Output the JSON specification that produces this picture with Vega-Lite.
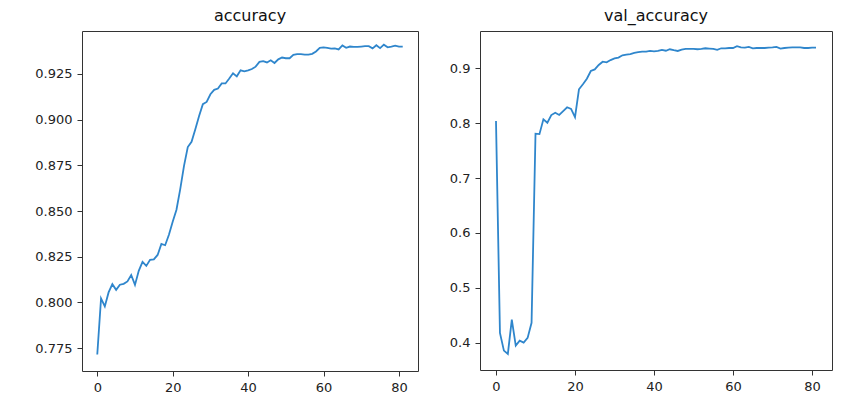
{
  "$schema": "https://vega.github.io/schema/vega-lite/v6.json",
  "padding": {"left": 34, "top": 7, "right": 5, "bottom": 5},
  "background": "white",
  "spacing": 29,
  "config": {
    "font": "DejaVu Sans",
    "view": {"stroke": "#333", "strokeWidth": 1},
    "axis": {
      "grid": false,
      "domain": false,
      "tickColor": "#333",
      "tickSize": 5,
      "tickWidth": 1,
      "labelFont": "DejaVu Sans",
      "labelFontSize": 13,
      "labelColor": "#222",
      "labelPadding": 5,
      "title": null
    },
    "title": {"font": "DejaVu Sans", "fontSize": 16, "fontWeight": "normal", "color": "#111", "offset": 7}
  },
  "datasets": {
    "acc": [
      {"epoch": 0, "v": 0.7715}, {"epoch": 1, "v": 0.8022}, {"epoch": 2, "v": 0.7978}, {"epoch": 3, "v": 0.8055},
      {"epoch": 4, "v": 0.8100}, {"epoch": 5, "v": 0.8069}, {"epoch": 6, "v": 0.8097}, {"epoch": 7, "v": 0.8102},
      {"epoch": 8, "v": 0.8115}, {"epoch": 9, "v": 0.8150}, {"epoch": 10, "v": 0.8096}, {"epoch": 11, "v": 0.8173},
      {"epoch": 12, "v": 0.8222}, {"epoch": 13, "v": 0.8200}, {"epoch": 14, "v": 0.8233}, {"epoch": 15, "v": 0.8236},
      {"epoch": 16, "v": 0.8260}, {"epoch": 17, "v": 0.8320}, {"epoch": 18, "v": 0.8313}, {"epoch": 19, "v": 0.8370},
      {"epoch": 20, "v": 0.8441}, {"epoch": 21, "v": 0.8507}, {"epoch": 22, "v": 0.8620}, {"epoch": 23, "v": 0.8747},
      {"epoch": 24, "v": 0.8850}, {"epoch": 25, "v": 0.8879}, {"epoch": 26, "v": 0.8948}, {"epoch": 27, "v": 0.9020},
      {"epoch": 28, "v": 0.9085}, {"epoch": 29, "v": 0.9097}, {"epoch": 30, "v": 0.9139}, {"epoch": 31, "v": 0.9163},
      {"epoch": 32, "v": 0.9170}, {"epoch": 33, "v": 0.9198}, {"epoch": 34, "v": 0.9198}, {"epoch": 35, "v": 0.9225},
      {"epoch": 36, "v": 0.9254}, {"epoch": 37, "v": 0.9237}, {"epoch": 38, "v": 0.9270}, {"epoch": 39, "v": 0.9264},
      {"epoch": 40, "v": 0.9270}, {"epoch": 41, "v": 0.9277}, {"epoch": 42, "v": 0.9290}, {"epoch": 43, "v": 0.9316},
      {"epoch": 44, "v": 0.9320}, {"epoch": 45, "v": 0.9313}, {"epoch": 46, "v": 0.9325}, {"epoch": 47, "v": 0.9310},
      {"epoch": 48, "v": 0.9330}, {"epoch": 49, "v": 0.9340}, {"epoch": 50, "v": 0.9336}, {"epoch": 51, "v": 0.9336},
      {"epoch": 52, "v": 0.9354}, {"epoch": 53, "v": 0.9358}, {"epoch": 54, "v": 0.9358}, {"epoch": 55, "v": 0.9356},
      {"epoch": 56, "v": 0.9356}, {"epoch": 57, "v": 0.9360}, {"epoch": 58, "v": 0.9373}, {"epoch": 59, "v": 0.9393},
      {"epoch": 60, "v": 0.9395}, {"epoch": 61, "v": 0.9393}, {"epoch": 62, "v": 0.9389}, {"epoch": 63, "v": 0.9390},
      {"epoch": 64, "v": 0.9384}, {"epoch": 65, "v": 0.9406}, {"epoch": 66, "v": 0.9393}, {"epoch": 67, "v": 0.9400},
      {"epoch": 68, "v": 0.9398}, {"epoch": 69, "v": 0.9398}, {"epoch": 70, "v": 0.9400}, {"epoch": 71, "v": 0.9402},
      {"epoch": 72, "v": 0.9402}, {"epoch": 73, "v": 0.9390}, {"epoch": 74, "v": 0.9407}, {"epoch": 75, "v": 0.9391},
      {"epoch": 76, "v": 0.9410}, {"epoch": 77, "v": 0.9396}, {"epoch": 78, "v": 0.9400}, {"epoch": 79, "v": 0.9405},
      {"epoch": 80, "v": 0.9400}, {"epoch": 81, "v": 0.9400}
    ],
    "val": [
      {"epoch": 0, "v": 0.8038}, {"epoch": 1, "v": 0.4177}, {"epoch": 2, "v": 0.3854}, {"epoch": 3, "v": 0.3794},
      {"epoch": 4, "v": 0.4420}, {"epoch": 5, "v": 0.3945}, {"epoch": 6, "v": 0.4036}, {"epoch": 7, "v": 0.4000},
      {"epoch": 8, "v": 0.4085}, {"epoch": 9, "v": 0.4360}, {"epoch": 10, "v": 0.7808}, {"epoch": 11, "v": 0.7800},
      {"epoch": 12, "v": 0.8070}, {"epoch": 13, "v": 0.8008}, {"epoch": 14, "v": 0.8148}, {"epoch": 15, "v": 0.8190},
      {"epoch": 16, "v": 0.8150}, {"epoch": 17, "v": 0.8220}, {"epoch": 18, "v": 0.8290}, {"epoch": 19, "v": 0.8260},
      {"epoch": 20, "v": 0.8110}, {"epoch": 21, "v": 0.8617}, {"epoch": 22, "v": 0.8710}, {"epoch": 23, "v": 0.8810},
      {"epoch": 24, "v": 0.8950}, {"epoch": 25, "v": 0.8980}, {"epoch": 26, "v": 0.9060}, {"epoch": 27, "v": 0.9120},
      {"epoch": 28, "v": 0.9110}, {"epoch": 29, "v": 0.9150}, {"epoch": 30, "v": 0.9180}, {"epoch": 31, "v": 0.9195},
      {"epoch": 32, "v": 0.9237}, {"epoch": 33, "v": 0.9250}, {"epoch": 34, "v": 0.9260}, {"epoch": 35, "v": 0.9280},
      {"epoch": 36, "v": 0.9293}, {"epoch": 37, "v": 0.9305}, {"epoch": 38, "v": 0.9305}, {"epoch": 39, "v": 0.9316},
      {"epoch": 40, "v": 0.9310}, {"epoch": 41, "v": 0.9316}, {"epoch": 42, "v": 0.9335}, {"epoch": 43, "v": 0.9320},
      {"epoch": 44, "v": 0.9347}, {"epoch": 45, "v": 0.9330}, {"epoch": 46, "v": 0.9316}, {"epoch": 47, "v": 0.9340},
      {"epoch": 48, "v": 0.9353}, {"epoch": 49, "v": 0.9353}, {"epoch": 50, "v": 0.9353}, {"epoch": 51, "v": 0.9347},
      {"epoch": 52, "v": 0.9353}, {"epoch": 53, "v": 0.9365}, {"epoch": 54, "v": 0.9360}, {"epoch": 55, "v": 0.9353},
      {"epoch": 56, "v": 0.9335}, {"epoch": 57, "v": 0.9365}, {"epoch": 58, "v": 0.9365}, {"epoch": 59, "v": 0.9370},
      {"epoch": 60, "v": 0.9370}, {"epoch": 61, "v": 0.9402}, {"epoch": 62, "v": 0.9380}, {"epoch": 63, "v": 0.9377},
      {"epoch": 64, "v": 0.9390}, {"epoch": 65, "v": 0.9365}, {"epoch": 66, "v": 0.9370}, {"epoch": 67, "v": 0.9370},
      {"epoch": 68, "v": 0.9370}, {"epoch": 69, "v": 0.9377}, {"epoch": 70, "v": 0.9380}, {"epoch": 71, "v": 0.9390},
      {"epoch": 72, "v": 0.9360}, {"epoch": 73, "v": 0.9370}, {"epoch": 74, "v": 0.9377}, {"epoch": 75, "v": 0.9380},
      {"epoch": 76, "v": 0.9380}, {"epoch": 77, "v": 0.9380}, {"epoch": 78, "v": 0.9370}, {"epoch": 79, "v": 0.9370},
      {"epoch": 80, "v": 0.9377}, {"epoch": 81, "v": 0.9377}
    ]
  },
  "hconcat": [
    {
      "title": "accuracy",
      "width": 336,
      "height": 340,
      "data": {"name": "acc"},
      "mark": {"type": "line", "color": "#2f86cc", "strokeWidth": 1.8, "clip": true},
      "encoding": {
        "x": {"field": "epoch", "type": "quantitative",
              "scale": {"domain": [-4.05, 85.05], "nice": false, "zero": false},
              "axis": {"values": [0, 20, 40, 60, 80], "format": "d"}},
        "y": {"field": "v", "type": "quantitative",
              "scale": {"domain": [0.7625, 0.9485], "nice": false, "zero": false},
              "axis": {"values": [0.775, 0.8, 0.825, 0.85, 0.875, 0.9, 0.925], "format": ".3f"}}
      }
    },
    {
      "title": "val_accuracy",
      "width": 352,
      "height": 339,
      "data": {"name": "val"},
      "mark": {"type": "line", "color": "#2f86cc", "strokeWidth": 1.8, "clip": true},
      "encoding": {
        "x": {"field": "epoch", "type": "quantitative",
              "scale": {"domain": [-4.05, 85.05], "nice": false, "zero": false},
              "axis": {"values": [0, 20, 40, 60, 80], "format": "d"}},
        "y": {"field": "v", "type": "quantitative",
              "scale": {"domain": [0.35, 0.968], "nice": false, "zero": false},
              "axis": {"values": [0.4, 0.5, 0.6, 0.7, 0.8, 0.9], "format": ".1f"}}
      }
    }
  ]
}
